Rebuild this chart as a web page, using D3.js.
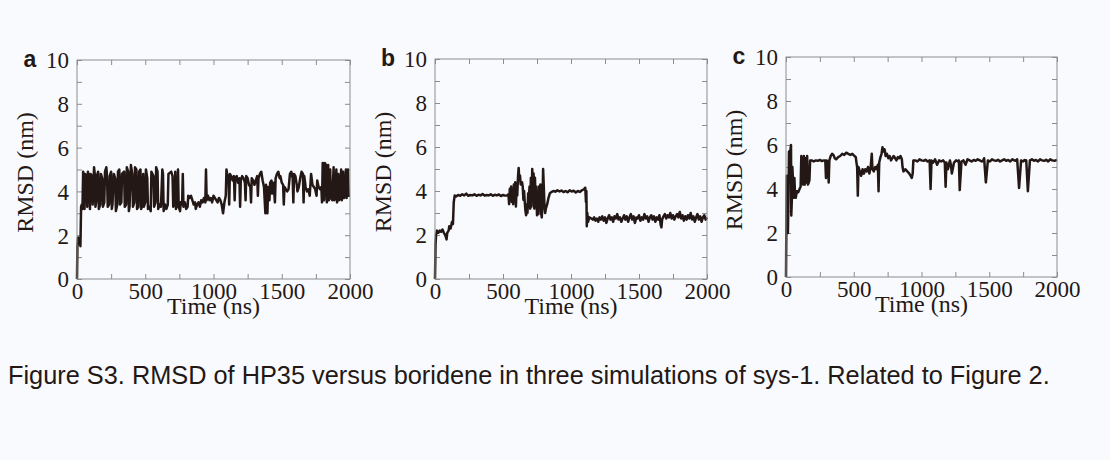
<!DOCTYPE html>
<html><head><meta charset="utf-8">
<script src="https://cdn.jsdelivr.net/npm/d3@7"></script>
<style>html,body{margin:0;padding:0;background:#f8fafd;}svg{display:block;}</style>
</head><body>
<svg id="chart" width="1110" height="460"></svg>
<script>
const panelLabels = ["a","b","c"];
const xTicks = [0,500,1000,1500,2000];
const yTicks = [0,2,4,6,8,10];
const xTitle = "Time (ns)";
const yTitle = "RMSD (nm)";
const caption = "Figure S3. RMSD of HP35 versus boridene in three simulations of sys-1. Related to Figure 2.";

const timeA = [0,3,8,12,20,25,30,35,40,45,50,55,60,70,75,80,90,95,100,110,115,125,130,135,140,145,155,160,170,175,185,190,200,205,215,220,225,235,240,250,255,260,270,280,285,295,300,310,315,325,330,345,350,360,365,375,380,385,395,405,410,420,425,435,440,450,455,465,470,480,485,490,500,505,515,520,530,540,545,560,565,575,580,590,595,605,615,625,630,635,645,655,665,670,690,700,705,715,720,725,735,740,745,755,760,770,775,780,790,800,810,815,825,835,845,855,865,870,880,890,900,910,920,930,940,945,950,960,970,980,990,1000,1010,1020,1030,1040,1050,1060,1070,1080,1090,1095,1100,1110,1115,1120,1130,1140,1150,1155,1160,1170,1180,1190,1195,1200,1210,1220,1230,1235,1240,1250,1260,1270,1275,1280,1290,1300,1310,1320,1325,1330,1340,1350,1360,1370,1380,1385,1395,1400,1410,1415,1425,1430,1440,1450,1455,1465,1475,1485,1490,1500,1510,1515,1520,1530,1540,1550,1560,1570,1580,1585,1590,1600,1610,1615,1625,1635,1645,1655,1660,1665,1675,1685,1695,1705,1715,1725,1735,1745,1755,1760,1770,1780,1790,1795,1800,1810,1815,1825,1830,1840,1845,1855,1860,1870,1880,1885,1895,1900,1905,1915,1920,1930,1935,1940,1950,1955,1965,1970,1975,1985,1990,2000];
const rmsdA = [0,1.5,1.9,1.6,1.8,1.5,3.3,3.4,3.2,4.9,4.7,3.2,4.8,4.6,3.3,4.9,4.5,3.2,4.8,4.7,3.4,5.1,4.8,3.3,3.5,4.7,4.9,3.2,3.4,4.8,4.6,3.3,3.5,4.9,5.1,4.7,3.3,3.4,4.7,4.9,3.2,3.4,4.8,4.6,3.1,3.4,4.9,5.0,3.4,3.5,4.8,4.9,3.3,3.4,5.1,4.9,3.1,3.3,5.2,4.8,3.3,3.5,5.1,5.0,3.2,3.3,4.9,5.0,3.2,3.4,4.8,3.3,3.5,5.0,4.6,3.2,3.3,3.1,4.9,4.7,3.3,3.5,5.1,4.9,3.2,3.4,3.3,5.0,4.8,3.1,3.4,3.2,3.4,4.8,4.9,4.7,3.3,3.5,4.9,3.2,3.4,5.0,3.3,3.1,3.5,3.4,4.8,3.3,3.5,3.2,3.3,3.8,3.7,3.8,3.6,3.4,3.5,3.2,3.4,3.5,3.3,3.6,3.5,3.7,3.5,5.0,3.6,3.8,3.6,3.7,3.5,3.8,3.7,3.6,3.5,3.7,3.6,3.4,3.0,3.5,3.8,5.0,4.8,4.5,3.4,4.8,4.7,4.5,4.7,3.6,4.6,4.7,4.4,4.6,3.3,4.5,4.7,4.6,4.4,3.6,4.7,4.6,4.3,4.2,3.5,4.6,4.5,4.3,4.5,4.7,3.8,4.6,4.8,4.9,4.5,4.2,3.0,4.3,3.0,4.2,3.6,4.4,4.5,3.9,4.4,3.5,4.6,4.8,4.9,4.6,4.7,4.4,4.3,3.4,4.2,4.1,4.0,4.1,4.8,4.9,4.6,3.5,4.8,4.7,4.3,4.0,4.2,4.6,4.9,4.8,3.5,4.7,4.2,4.0,4.1,3.8,4.8,4.3,4.2,4.1,3.8,4.5,4.2,4.1,4.2,3.5,5.3,3.6,5.3,5.2,3.5,5.2,3.6,5.0,3.7,3.6,5.1,3.6,3.7,5.0,3.5,4.8,3.6,3.7,5.0,3.6,4.9,3.7,3.8,5.0,3.7,5.0,3.8,3.8];

const timeB = [0,4,8,15,25,35,45,55,65,75,85,90,100,105,115,125,132,138,145,155,170,185,200,215,230,245,260,275,290,305,320,335,350,365,380,395,410,425,440,455,470,485,500,515,530,540,545,550,555,560,565,570,575,580,585,590,595,600,605,610,615,620,625,630,640,645,650,655,660,665,670,675,680,685,690,695,700,705,710,715,720,725,730,735,740,745,750,755,760,765,770,775,780,785,790,795,800,805,810,815,825,835,845,855,870,885,900,915,930,945,960,975,990,1005,1020,1035,1050,1065,1080,1095,1105,1110,1113,1116,1120,1125,1135,1150,1160,1170,1180,1190,1200,1210,1220,1230,1240,1250,1260,1270,1280,1290,1300,1310,1320,1330,1340,1350,1360,1370,1380,1390,1400,1410,1420,1430,1440,1450,1460,1470,1480,1490,1500,1510,1520,1530,1540,1550,1560,1570,1580,1590,1600,1610,1620,1630,1640,1650,1660,1665,1670,1680,1690,1700,1710,1720,1730,1740,1750,1760,1770,1780,1790,1800,1810,1820,1830,1840,1850,1860,1870,1880,1890,1900,1910,1920,1930,1940,1950,1960,1970,1980,1990,2000];
const rmsdB = [0,1.6,2.0,2.2,2.1,2.2,2.15,2.25,2.1,2.0,1.8,2.1,2.2,2.4,2.3,2.6,2.5,3.5,3.8,3.75,3.82,3.78,3.85,3.8,3.88,3.78,3.82,3.8,3.85,3.78,3.83,3.8,3.86,3.79,3.82,3.8,3.85,3.78,3.83,3.8,3.84,3.77,3.82,3.79,3.8,3.85,3.4,4.1,3.6,4.2,3.5,4.0,3.4,4.3,3.6,4.4,3.3,4.2,3.8,4.6,5.05,4.5,4.7,4.3,4.4,4.2,3.6,4.0,3.5,3.1,2.9,3.4,3.0,3.9,3.6,4.2,3.2,4.6,3.3,5.0,4.0,4.8,3.2,4.6,3.4,4.2,2.9,3.6,2.95,4.2,3.5,4.3,3.0,2.8,3.4,5.0,4.2,3.3,3.0,3.2,3.4,3.7,3.9,3.95,4.0,3.97,4.03,3.98,4.02,3.95,4.0,3.94,4.03,3.98,4.01,3.93,4.0,3.96,4.03,4.08,4.15,3.5,4.0,2.4,3.0,2.6,2.8,2.75,2.7,2.8,2.65,2.75,2.6,2.8,2.7,2.85,2.65,2.8,2.55,2.75,2.9,2.7,2.8,2.6,2.85,2.75,2.95,2.7,2.8,2.6,2.75,2.9,2.7,2.85,2.6,2.8,2.95,2.7,2.85,2.55,2.8,2.75,2.9,2.65,2.8,2.7,2.95,2.75,2.85,2.6,2.8,2.9,2.7,2.85,2.6,2.8,2.7,2.9,2.45,2.35,2.7,2.85,2.95,2.75,2.9,2.8,3.0,2.75,2.9,2.7,2.85,2.95,2.8,3.05,2.75,2.9,2.65,2.85,2.7,2.9,2.75,3.0,2.7,2.85,2.6,2.8,2.95,2.7,2.85,2.6,2.8,2.9,2.7,2.8];

const timeC = [0,3,6,10,14,18,22,28,33,37,39,43,47,52,57,62,67,72,80,90,100,108,113,118,122,127,132,138,145,150,156,162,168,173,178,190,205,220,235,250,265,280,290,295,300,310,315,320,330,340,350,360,370,385,400,415,430,445,460,475,490,505,515,520,525,530,535,545,555,565,575,585,595,605,615,625,633,638,648,658,668,678,683,688,695,705,712,720,728,735,745,755,765,775,785,795,805,815,825,835,845,855,860,867,880,895,910,920,928,935,940,955,970,985,1000,1015,1030,1045,1060,1067,1074,1085,1100,1115,1130,1145,1160,1172,1178,1184,1195,1210,1217,1224,1240,1255,1270,1276,1282,1295,1310,1325,1340,1355,1370,1385,1400,1415,1430,1445,1455,1462,1475,1490,1505,1520,1535,1550,1565,1580,1595,1610,1625,1640,1655,1670,1685,1694,1700,1706,1720,1735,1750,1761,1767,1773,1785,1800,1815,1830,1845,1860,1875,1890,1905,1920,1935,1950,1965,1980,2000];
const rmsdC = [0,2.5,4.6,3.0,2.0,3.5,5.7,4.5,5.8,6.0,2.8,3.5,5.0,4.3,3.6,4.5,3.7,3.6,3.9,3.85,4.0,4.1,5.5,4.3,5.4,4.2,5.5,4.2,5.4,4.3,5.5,4.2,4.3,4.4,5.3,5.3,5.25,5.3,5.28,5.32,5.27,5.3,5.3,4.5,5.3,5.25,4.3,5.3,5.5,5.6,5.55,5.4,5.35,5.45,5.5,5.6,5.55,5.65,5.6,5.55,5.6,5.5,5.45,5.2,5.0,3.7,5.0,4.8,4.6,4.9,4.7,4.9,4.8,5.0,4.7,5.0,5.6,4.9,4.8,5.0,4.9,5.1,3.9,5.2,5.4,5.6,5.9,5.7,5.8,5.5,5.6,5.4,5.5,5.3,5.4,5.5,5.4,5.3,5.45,5.4,5.5,5.35,5.0,4.8,4.9,4.8,4.7,4.6,4.5,4.7,5.3,5.3,5.25,5.35,5.3,5.28,5.33,5.25,5.3,4.0,5.3,5.2,5.35,5.1,5.3,5.25,5.3,5.2,4.1,5.2,4.9,5.3,5.1,4.7,5.2,5.3,5.25,5.3,3.95,5.25,5.3,5.1,5.35,5.3,5.25,5.32,5.28,5.35,5.3,5.25,5.3,5.4,4.3,5.3,5.25,5.35,5.3,5.28,5.33,5.25,5.3,5.35,5.28,5.32,5.25,5.35,5.3,5.28,5.32,5.35,4.05,5.3,5.25,5.32,5.28,5.3,3.9,5.3,5.35,5.28,5.32,5.25,5.35,5.3,5.28,5.33,5.25,5.35,5.3,5.28,5.32,5.3,5.3];

const seriesList = [[timeA, rmsdA],[timeB, rmsdB],[timeC, rmsdC]];
const boxes = [
  {l:77, r:350, t:60, b:279},
  {l:435, r:707, t:59, b:279},
  {l:786, r:1057, t:57, b:277}
];

const svg = d3.select("#chart");
svg.append("rect").attr("width",1110).attr("height",460).attr("fill","#f8fafd");
const serif = "'Liberation Serif','Times New Roman',serif";
const sans = "'Liberation Sans',Arial,sans-serif";
const ink = "#231815";
const frame = "#8c8c8c";

boxes.forEach((bx, i) => {
  const x = d3.scaleLinear().domain([0,2000]).range([bx.l, bx.r]);
  const y = d3.scaleLinear().domain([0,10]).range([bx.b, bx.t]);
  const g = svg.append("g");
  const tl = 5;
  const minorX = d3.range(0,2001,250), minorY = d3.range(0,11,1);
  g.append("g").attr("transform",`translate(0,${bx.b})`)
    .call(d3.axisTop(x).tickValues(minorX).tickSize(tl).tickFormat(""))
    .call(s=>{s.select(".domain").remove(); s.selectAll("line").attr("stroke",frame);});
  g.append("g").attr("transform",`translate(0,${bx.t})`)
    .call(d3.axisBottom(x).tickValues(minorX).tickSize(tl).tickFormat(""))
    .call(s=>{s.select(".domain").remove(); s.selectAll("line").attr("stroke",frame);});
  g.append("g").attr("transform",`translate(${bx.l},0)`)
    .call(d3.axisRight(y).tickValues(minorY).tickSize(tl).tickFormat(""))
    .call(s=>{s.select(".domain").remove(); s.selectAll("line").attr("stroke",frame);});
  g.append("g").attr("transform",`translate(${bx.r},0)`)
    .call(d3.axisLeft(y).tickValues(minorY).tickSize(tl).tickFormat(""))
    .call(s=>{s.select(".domain").remove(); s.selectAll("line").attr("stroke",frame);});
  g.append("g").attr("transform",`translate(0,${bx.b})`)
    .call(d3.axisBottom(x).tickValues(xTicks).tickSize(0).tickPadding(20).tickFormat(d3.format("d")))
    .call(s=>{s.select(".domain").remove();
      s.selectAll("text").style("font-family",serif).style("font-size","23px").attr("fill",ink).attr("dy","0");});
  g.append("g").attr("transform",`translate(${bx.l},0)`)
    .call(d3.axisLeft(y).tickValues(yTicks).tickSize(0).tickPadding(8).tickFormat(d3.format("d")))
    .call(s=>{s.select(".domain").remove();
      s.selectAll("text").style("font-family",serif).style("font-size","23px").attr("fill",ink).attr("dy","0.34em");});
  const [ts, vs] = seriesList[i];
  const pts = ts.map((t,k)=>[t, vs[k]]);
  g.append("path").datum(pts)
    .attr("d", d3.line().x(d=>x(d[0])).y(d=>y(d[1])))
    .attr("fill","none").attr("stroke",ink).attr("stroke-width",2.5).attr("stroke-linejoin","round");
  g.append("rect").attr("x",bx.l).attr("y",bx.t).attr("width",bx.r-bx.l).attr("height",bx.b-bx.t)
    .attr("fill","none").attr("stroke",frame).attr("stroke-width",1);
  g.append("text").attr("x",(bx.l+bx.r)/2).attr("y",bx.b+35).attr("text-anchor","middle")
    .style("font-family",serif).style("font-size","24px").attr("fill",ink).text(xTitle);
  g.append("text").attr("transform",`translate(${bx.l-44},${(bx.t+bx.b)/2+3}) rotate(-90)`)
    .attr("text-anchor","middle").style("font-family",serif).style("font-size","24px").attr("fill",ink).text(yTitle);
  g.append("text").attr("x",bx.l-47).attr("y",bx.t+7).attr("text-anchor","middle")
    .style("font-family",sans).style("font-weight","bold").style("font-size","23px").attr("fill",ink).text(panelLabels[i]);
});

const cap = svg.append("text").attr("x",8).attr("y",384)
  .style("font-family",sans).style("font-size","20px").attr("fill",ink).text(caption);
const w = cap.node().getComputedTextLength();
cap.style("font-size", (20*1042/w)+"px");
</script>
</body></html>
